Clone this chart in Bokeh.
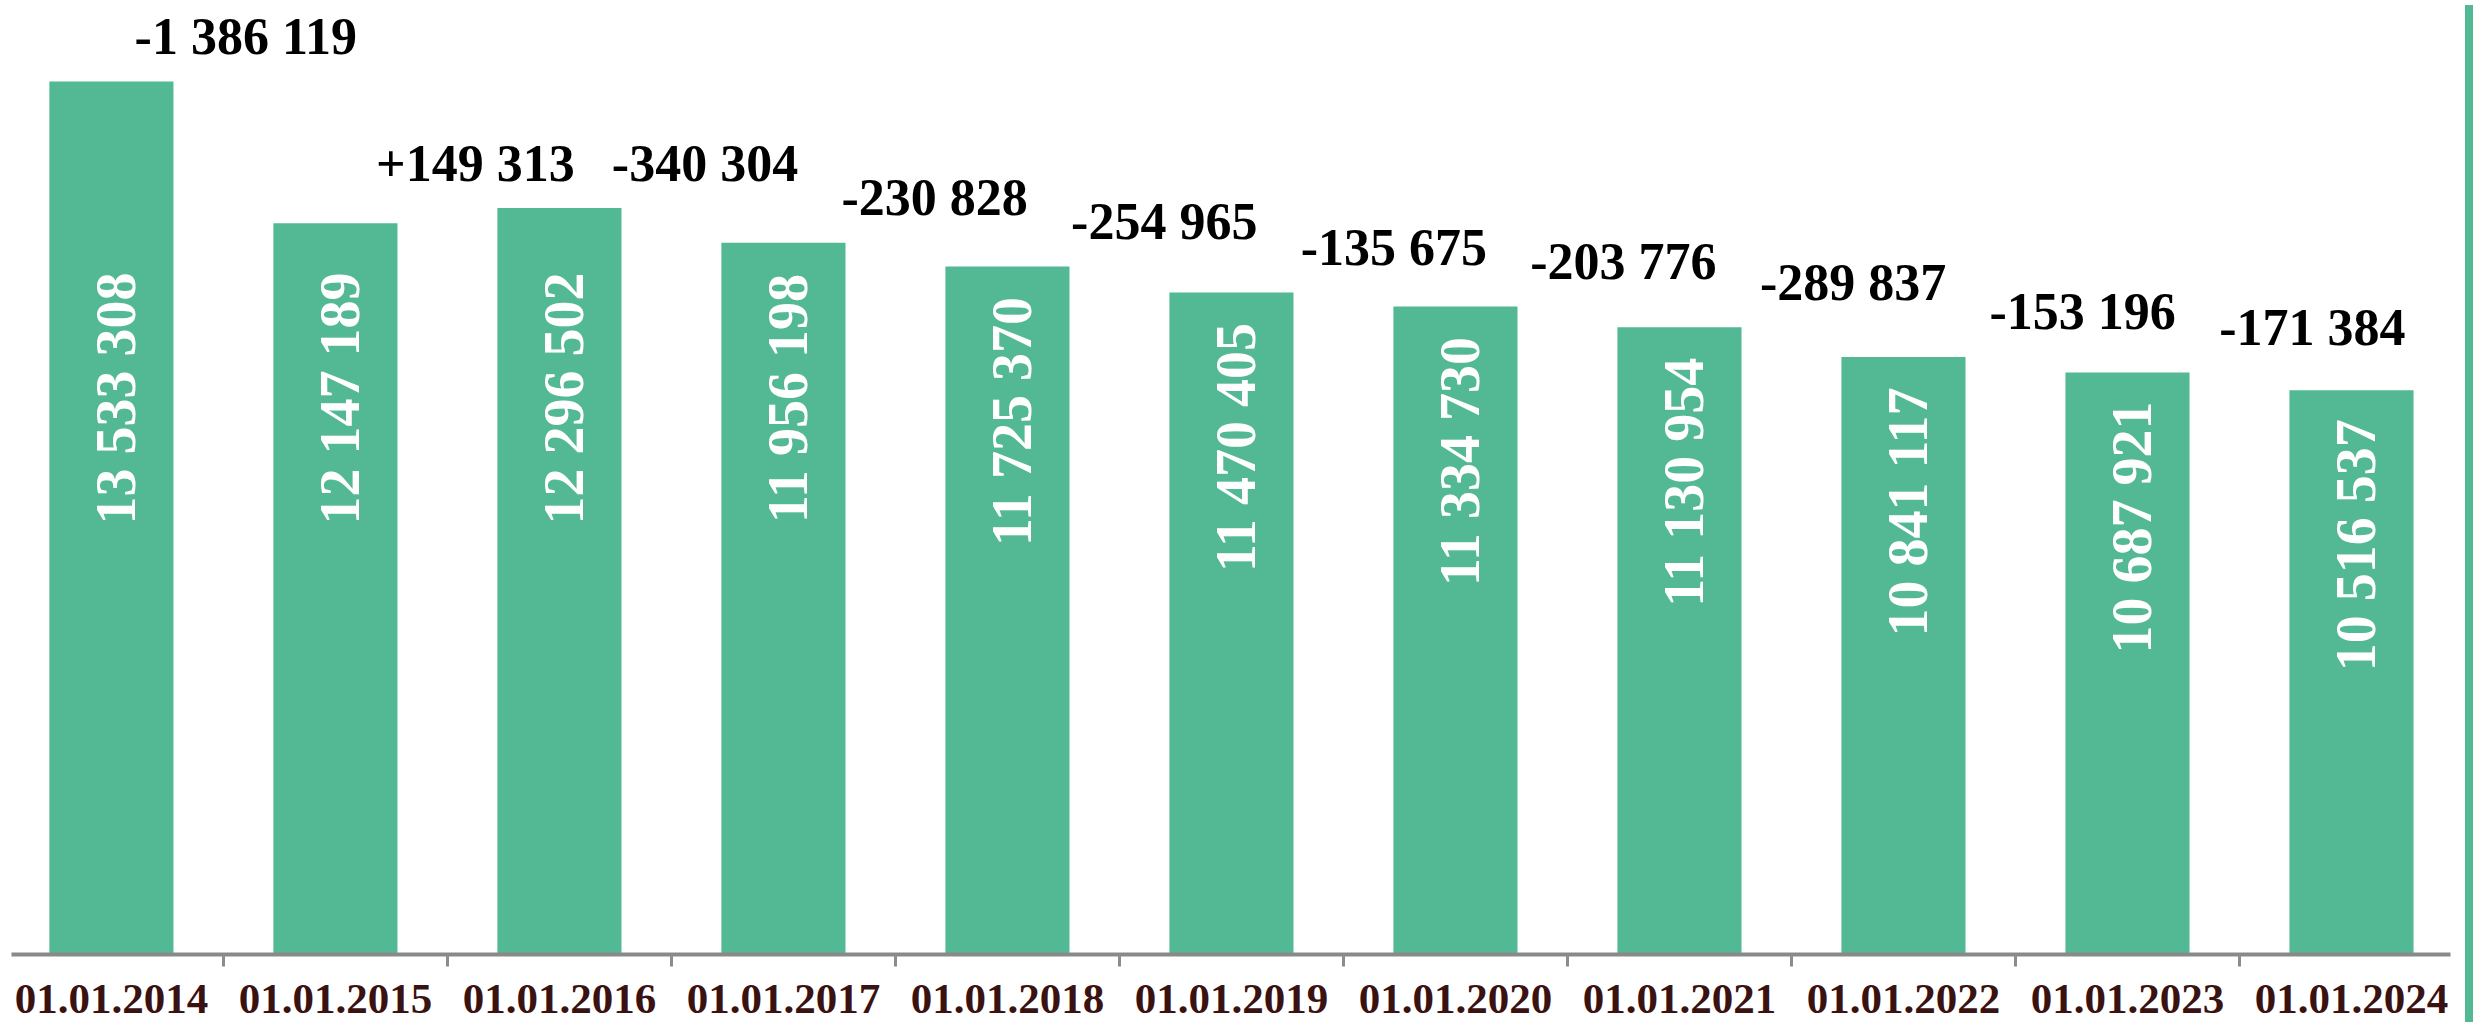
from bokeh.plotting import figure
from bokeh.models import ColumnDataSource, Range1d, FixedTicker, Div
from bokeh.layouts import row
from bokeh.core.properties import value
from bokeh.embed import file_html
from bokeh.resources import INLINE
import math

dates = ["01.01.2014", "01.01.2015", "01.01.2016", "01.01.2017", "01.01.2018", "01.01.2019",
         "01.01.2020", "01.01.2021", "01.01.2022", "01.01.2023", "01.01.2024"]
values = [13533308, 12147189, 12296502, 11956198, 11725370, 11470405,
          11334730, 11130954, 10841117, 10687921, 10516537]
changes = ["-1 386 119", "+149 313", "-340 304", "-230 828", "-254 965",
           "-135 675", "-203 776", "-289 837", "-153 196", "-171 384"]

GREEN = "#52B994"
FONT = value("Liberation Serif")

Y0, Y1 = 5_000_000, 14_325_000
FRAME_H = 954
UPP = (Y1 - Y0) / FRAME_H          # data units per screen pixel
LABEL_DROP = 155 * UPP             # label centre sits this far below bar top
LABEL_CAP = Y0 + (FRAME_H - 398) * UPP  # but never higher than this level

idx = list(range(len(values)))
bars = ColumnDataSource(dict(
    x=idx,
    top=values,
    lab=[f"{v:,}".replace(",", " ") for v in values],
    ly=[min(v - LABEL_DROP, LABEL_CAP) for v in values],
))
deltas = ColumnDataSource(dict(
    x=[i + 0.60 + 0.025 * i for i in range(len(changes))],
    y=[max(values[i], values[i + 1]) for i in range(len(changes))],
    t=changes,
))

p = figure(width=2460, height=1022, output_backend="svg", toolbar_location=None,
           x_range=Range1d(-0.446, 10.442), y_range=Range1d(Y0, Y1),
           y_axis_location=None, min_border_left=11, min_border_right=10,
           min_border_top=0, min_border_bottom=68)
p.outline_line_color = None
p.grid.visible = False
p.background_fill_color = "white"
p.border_fill_color = "white"

p.vbar(x="x", top="top", bottom=Y0, width=0.554, source=bars,
       fill_color=GREEN, line_color=None)

p.text(x="x", y="ly", text="lab", source=bars, angle=math.pi / 2,
       text_align="center", text_baseline="middle", x_offset=5,
       text_color="white", text_font=FONT, text_font_style="bold",
       text_font_size="56px")

p.text(x="x", y="y", text="t", source=deltas, y_offset=-45,
       text_align="center", text_baseline="middle", text_color="black",
       text_font=FONT, text_font_style="bold", text_font_size="52px")

ax = p.xaxis[0]
ax.ticker = FixedTicker(ticks=idx, minor_ticks=[i + 0.5 for i in range(len(values) - 1)])
ax.major_label_overrides = {i: d for i, d in enumerate(dates)}
ax.axis_line_color = "#898989"
ax.axis_line_width = 4
ax.major_tick_line_color = None
ax.major_tick_out = 0
ax.major_tick_in = 0
ax.minor_tick_out = 12
ax.minor_tick_in = 0
ax.minor_tick_line_color = "#8c8c8c"
ax.minor_tick_line_width = 3
ax.major_label_standoff = 18
ax.major_label_text_font = "Liberation Serif"
ax.major_label_text_font_style = "bold"
ax.major_label_text_font_size = "43px"
ax.major_label_text_color = "#3b1212"

edge = Div(width=8, height=1022, styles={"background-color": GREEN})
layout = row(p, edge)

open("out.html", "w").write(file_html(layout, INLINE))
